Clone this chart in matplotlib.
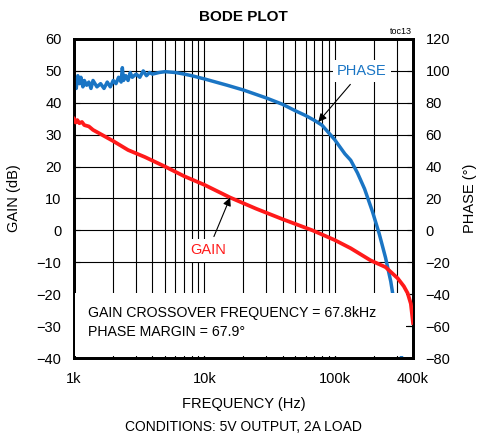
import matplotlib
matplotlib.use("Agg")
import matplotlib.pyplot as plt
from matplotlib.patches import Rectangle
from matplotlib.ticker import NullFormatter, LogLocator

plt.rcParams['font.family'] = ['Liberation Sans', 'DejaVu Sans']

# ---- data ----
gain_freq = [1000, 1030, 1060, 1100, 1150, 1200, 1300, 1400, 1600, 2000, 2600, 3500, 5000,
             7000, 10000, 15800, 25000, 40000, 67800, 100000, 133000, 189000, 246000,
             305000, 340000, 364000, 385000, 400000]
gain_db = [35.0, 33.8, 34.6, 33.6, 34.0, 33.0, 32.6, 31.5, 30.2, 28.0, 25.2, 23.0, 20.0,
           17.0, 14.3, 10.3, 6.8, 3.5, 0.0, -3.0, -5.6, -9.4, -11.5,
           -15.0, -17.5, -19.7, -23.0, -29.0]

phase_freq = [1000, 1020, 1040, 1070, 1100, 1130, 1170, 1200, 1250, 1300, 1350, 1400, 1500,
              1600, 1700, 1800, 1900, 2000, 2100, 2200, 2300, 2350, 2400, 2500, 2600, 2700,
              2800, 3000, 3200, 3400, 3600, 3800, 4000, 4500, 5000, 6000, 7000, 8000, 10000,
              15000, 20000, 30000, 40000, 50000, 60000, 70000, 80000, 100000, 120000,
              133000, 150000, 170000, 195000, 220000, 246000, 270000, 285000, 300000,
              315000, 330000]
phase_deg = [91, 95, 89, 97, 92, 96, 90, 94, 91, 93, 89, 94, 90,
             92, 89, 93, 90, 94, 92, 96, 93, 102, 94, 97, 94, 99,
             96, 98, 96, 100, 97, 99, 98, 99, 99.5, 99, 98, 97, 95,
             91, 88, 83, 79, 75, 72, 69, 66, 57, 48,
             44, 36, 26, 12, -2, -17, -32, -44, -58,
             -70, -82]

gain_ticks = [-40, -30, -20, -10, 0, 10, 20, 30, 40, 50, 60]
phase_ticks = [-80, -60, -40, -20, 0, 20, 40, 60, 80, 100, 120]
freq_ticks = [1000, 10000, 100000, 400000]
freq_labels = ['1k', '10k', '100k', '400k']

RED = '#ff1a1a'
BLUE = '#1a75c4'

fig = plt.figure(figsize=(4.84, 4.38), dpi=100)
ax = fig.add_axes([74/484, 1-358/438, (413-74)/484, (358-39)/438])
ax.set_xscale('log')
ax.set_xlim(1000, 400000)
ax.set_ylim(-40, 60)
ax.set_yticks(gain_ticks)
ax.set_xticks(freq_ticks)
ax.set_xticklabels(freq_labels)
ax.xaxis.set_minor_locator(LogLocator(base=10, subs=range(2, 10)))
ax.xaxis.set_minor_formatter(NullFormatter())
ax.grid(True, which='both', axis='x', color='black', lw=0.8)
ax.grid(True, which='major', axis='y', color='black', lw=0.8)
ax.set_axisbelow(True)
ax.tick_params(axis='y', which='both', direction='in', length=4, labelsize=10.5, pad=9, color='black')
ax.tick_params(axis='x', which='major', direction='in', length=4, labelsize=10.5, pad=10, color='black')
ax.tick_params(axis='x', which='minor', length=0)
for s in ax.spines.values():
    s.set_linewidth(2)
ax.set_ylabel('GAIN (dB)', fontsize=10.5, labelpad=11)
ax.set_xlabel('FREQUENCY (Hz)', fontsize=10.5, labelpad=8)

ax2 = ax.twinx()
ax2.set_ylim(-80, 120)
ax2.set_yticks(phase_ticks)
ax2.tick_params(axis='y', direction='in', length=4, labelsize=10.5, pad=9)
ax2.set_ylabel('PHASE (°)', fontsize=10.5, labelpad=9)
for s in ax2.spines.values():
    s.set_linewidth(2)

# phase line
ax2.plot(phase_freq, phase_deg, color=BLUE, lw=2.5, zorder=2, solid_joinstyle='round')

# white text box covering the lower part
ax2.add_patch(Rectangle((0.003, 0.006), 0.975, 0.197, transform=ax2.transAxes,
                        facecolor='white', edgecolor='none', zorder=3))

# gain line (drawn through gain axis scale)
ax2.plot(gain_freq, gain_db, color=RED, lw=2.7, zorder=4, transform=ax.transData,
         solid_joinstyle='round')

ax2.text(0.04, 0.11, 'GAIN CROSSOVER FREQUENCY = 67.8kHz\nPHASE MARGIN = 67.9°',
         transform=ax2.transAxes, fontsize=10.2, va='center', ha='left', linespacing=1.45,
         zorder=5)

# labels with arrows
ax2.annotate('GAIN', xy=(15800, 10.3), xycoords=ax.transData,
             xytext=(10700, -6.3), textcoords=ax.transData,
             color=RED, fontsize=10.5, ha='center', va='center', zorder=6,
             bbox=dict(boxstyle='square,pad=0.3', fc='white', ec='none'),
             arrowprops=dict(arrowstyle='-|>', color='black', lw=0.8,
                             mutation_scale=12, shrinkA=2, shrinkB=0))
ax2.annotate('PHASE', xy=(75000, 34), xycoords=ax.transData,
             xytext=(162000, 50), textcoords=ax.transData,
             color=BLUE, fontsize=10.5, ha='center', va='center', zorder=6,
             bbox=dict(boxstyle='square,pad=0.3', fc='white', ec='none'),
             arrowprops=dict(arrowstyle='-|>', color='black', lw=0.8,
                             mutation_scale=12, shrinkA=2, shrinkB=0))

fig.text(243/484, 1-17/438, 'BODE PLOT', ha='center', va='center', fontsize=11, fontweight='bold')
fig.text(412/484, 1-31/438, 'toc13', ha='right', va='center', fontsize=6.5)
fig.text(243/484, 1-427/438, 'CONDITIONS: 5V OUTPUT, 2A LOAD', ha='center', va='center', fontsize=10)

fig.savefig('out.png', dpi=100)
